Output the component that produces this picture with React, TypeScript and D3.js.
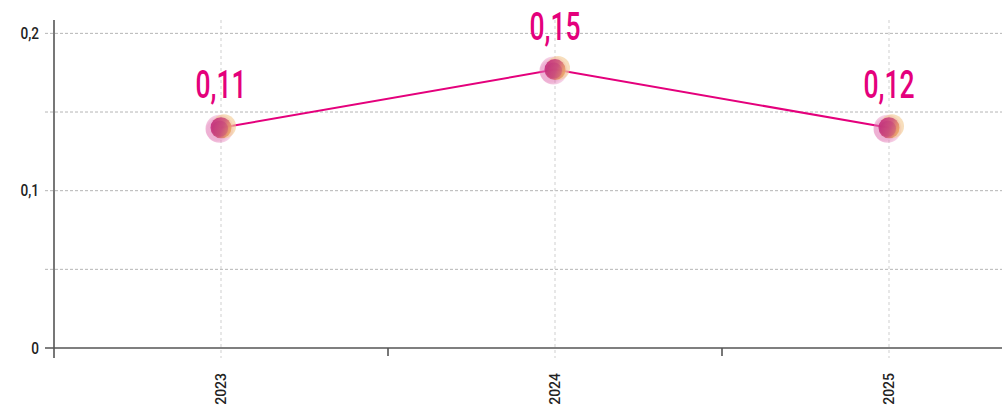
import React from "react";
import * as d3 from "d3";

const years = ["2023", "2024", "2025"];
const values = [0.14, 0.177, 0.14];
const valueLabels = ["0,11", "0,15", "0,12"];
const yTicks = [0, 0.05, 0.1, 0.15, 0.2];
const yTickLabels = ["0", "", "0,1", "", "0,2"];

const W = 1002;
const H = 405;
const left = 54;
const top = 20;
const bottom = 348;
const pink = "#e4007c";

export default function App() {
  const x = d3.scaleBand<string>().domain(years).range([left, left + 334 * 3]).padding(0);
  const y = d3.scaleLinear().domain([0, 0.2085]).range([bottom, top]);
  const cx = (d: string) => (x(d) as number) + x.bandwidth() / 2;
  const line = d3
    .line<number>()
    .x((_, i) => cx(years[i]))
    .y((v) => y(v));
  const bandEdges = years.map((d) => x(d) as number);

  return (
    <svg
      width={W}
      height={H}
      style={{ position: "absolute", left: 0, top: 0, display: "block", background: "#fff" }}
    >
      <defs>
        <linearGradient id="mk" x1="0" y1="0.3" x2="1" y2="0.7">
          <stop offset="0" stopColor="#c2267d" />
          <stop offset="0.55" stopColor="#d0567a" />
          <stop offset="1" stopColor="#eeb060" />
        </linearGradient>
        <radialGradient id="halo" cx="0.4" cy="0.55" r="0.6">
          <stop offset="0.6" stopColor="#e070b0" stopOpacity="0.55" />
          <stop offset="1" stopColor="#f0a8d0" stopOpacity="0.35" />
        </radialGradient>
      </defs>

      {/* horizontal grid */}
      {yTicks.slice(1).map((t) => (
        <line
          key={"h" + t}
          x1={45}
          x2={W}
          y1={y(t)}
          y2={y(t)}
          stroke="#b5b5b5"
          strokeWidth={1}
          strokeDasharray="3,2"
        />
      ))}
      {/* vertical grid */}
      {years.map((d) => (
        <line
          key={"v" + d}
          x1={cx(d)}
          x2={cx(d)}
          y1={top}
          y2={358}
          stroke="#cfcfcf"
          strokeWidth={1}
          strokeDasharray="3,3"
        />
      ))}

      {/* axes */}
      <line x1={left} x2={left} y1={top} y2={358} stroke="#555" strokeWidth={1.6} />
      <line x1={45} x2={W} y1={bottom} y2={bottom} stroke="#555" strokeWidth={1.6} />
      {bandEdges.slice(1).map((e) => (
        <line key={"t" + e} x1={e} x2={e} y1={bottom} y2={356} stroke="#555" strokeWidth={1.6} />
      ))}

      {/* y tick labels */}
      {yTicks.map((t, i) =>
        yTickLabels[i] ? (
          <text
            key={"yl" + t}
            transform={`translate(39,${y(t)}) scale(0.85,1)`}
            dy="0.35em"
            textAnchor="end"
            fontFamily="Roboto, sans-serif"
            fontWeight={500}
            fontSize={16}
            fill="#222"
          >
            {yTickLabels[i]}
          </text>
        ) : null
      )}

      {/* x labels */}
      {years.map((d) => (
        <text
          key={"xl" + d}
          transform={`translate(${cx(d)},373) rotate(-90)`}
          dy="0.35em"
          textAnchor="end"
          fontFamily="Roboto, sans-serif"
          fontWeight={500}
          fontSize={14}
          fill="#222"
        >
          {d}
        </text>
      ))}

      {/* line */}
      <path d={line(values) || ""} fill="none" stroke={pink} strokeWidth={2} />

      {/* markers */}
      {values.map((v, i) => {
        const px = cx(years[i]);
        const py = y(v);
        return (
          <g key={"m" + i} transform={`translate(${px},${py})`}>
            <circle r={14} cx={-1.5} cy={1} fill="url(#halo)" />
            <circle r={12} cx={3} cy={-1.5} fill="#f2c890" opacity={0.6} />
            <circle r={10.5} cx={0} cy={0} fill="url(#mk)" opacity={0.9} />
            <circle r={8} cx={-1} cy={1} fill="#b82a78" opacity={0.3} />
          </g>
        );
      })}

      {/* value labels */}
      {values.map((v, i) => (
        <text
          key={"vl" + i}
          transform={`translate(${cx(years[i])},${y(v) - 30}) scale(0.68,1)`}
          textAnchor="middle"
          fontFamily="Roboto, sans-serif"
          fontWeight={500}
          fontSize={39}
          fill={pink}
        >
          {valueLabels[i]}
        </text>
      ))}
    </svg>
  );
}
